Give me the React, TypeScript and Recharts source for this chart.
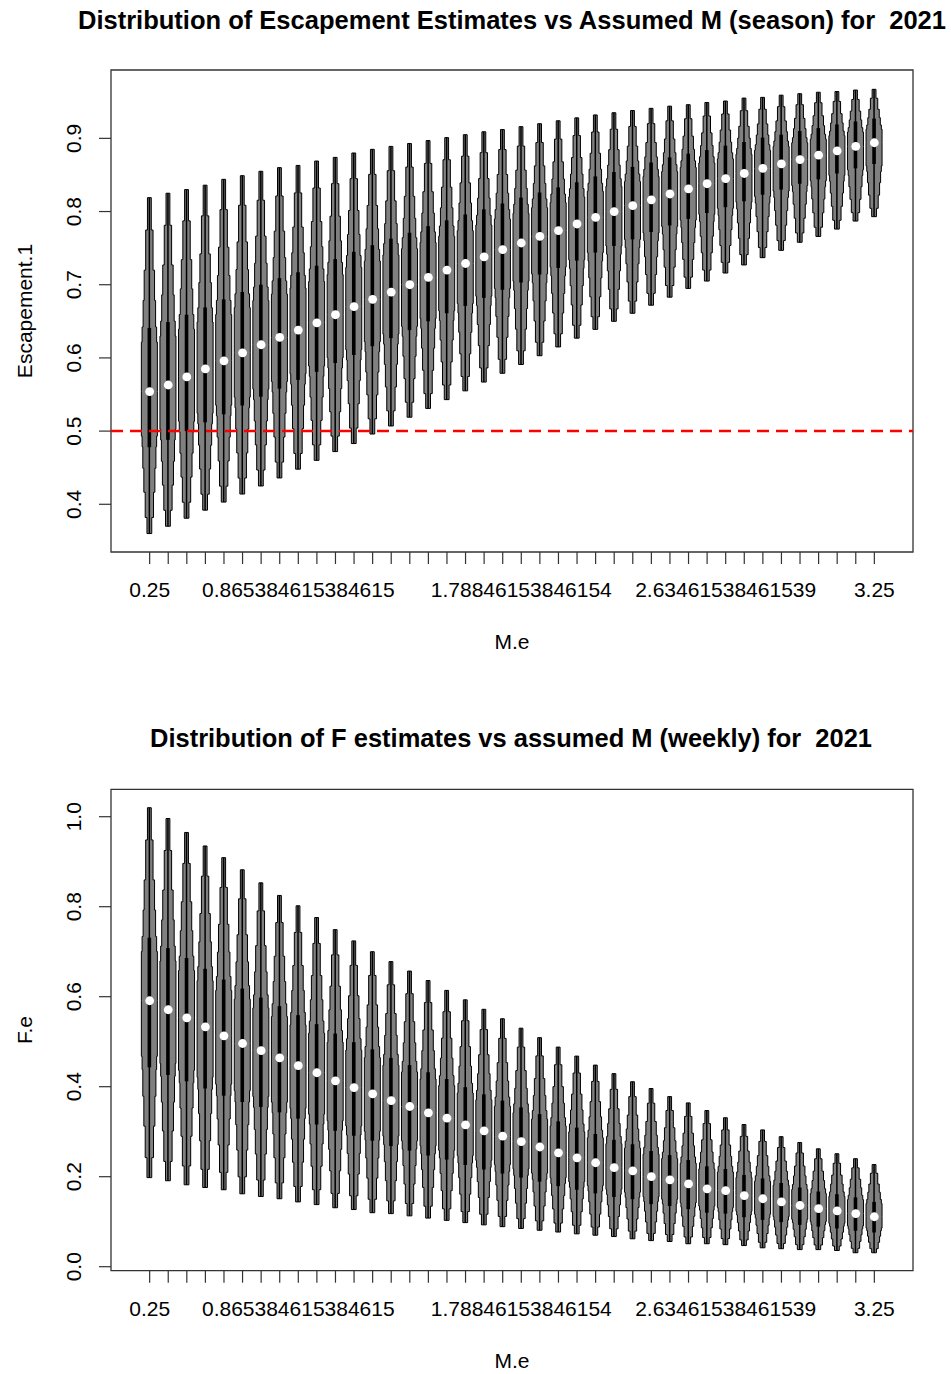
import React from "react";
import { ComposedChart, Bar, Scatter, XAxis, YAxis, ReferenceLine, ReferenceArea } from "recharts";

// assumed M values (40 runs)
const mValues = [
  0.25, 0.326923, 0.403846, 0.480769, 0.557692, 0.634615, 0.711538, 0.788462, 0.865385, 0.942308,
  1.019231, 1.096154, 1.173077, 1.25, 1.326923, 1.403846, 1.480769, 1.557692, 1.634615, 1.711538,
  1.788462, 1.865385, 1.942308, 2.019231, 2.096154, 2.173077, 2.25, 2.326923, 2.403846, 2.480769,
  2.557692, 2.634615, 2.711538, 2.788462, 2.865385, 2.942308, 3.019231, 3.096154, 3.173077, 3.25,
];
// R only printed the labels that fit
const xLabelIdx = [0, 8, 20, 31, 39];
const xLabelText = ["0.25", "0.865384615384615", "1.78846153846154", "2.63461538461539", "3.25"];

// Escapement.1 (season)
const escMin = [
  0.360, 0.370, 0.381, 0.392, 0.403, 0.414, 0.425, 0.436, 0.448, 0.460,
  0.472, 0.483, 0.496, 0.507, 0.519, 0.531, 0.543, 0.555, 0.567, 0.579,
  0.591, 0.603, 0.615, 0.627, 0.639, 0.650, 0.661, 0.672, 0.683, 0.695,
  0.705, 0.716, 0.727, 0.737, 0.747, 0.758, 0.766, 0.776, 0.787, 0.793,
];
const escQ1 = [
  0.478, 0.488, 0.500, 0.512, 0.523, 0.535, 0.547, 0.558, 0.570, 0.581,
  0.593, 0.604, 0.616, 0.627, 0.638, 0.650, 0.661, 0.671, 0.682, 0.693,
  0.703, 0.714, 0.723, 0.733, 0.744, 0.753, 0.762, 0.772, 0.781, 0.790,
  0.798, 0.806, 0.814, 0.823, 0.830, 0.838, 0.844, 0.852, 0.859, 0.865,
];
const escMed = [
  0.554, 0.563, 0.574, 0.585, 0.596, 0.607, 0.618, 0.628, 0.638, 0.648,
  0.659, 0.670, 0.680, 0.690, 0.700, 0.710, 0.720, 0.729, 0.738, 0.748,
  0.757, 0.766, 0.774, 0.783, 0.792, 0.800, 0.808, 0.816, 0.824, 0.831,
  0.838, 0.845, 0.852, 0.859, 0.865, 0.871, 0.877, 0.883, 0.889, 0.894,
];
const escQ3 = [
  0.641, 0.649, 0.659, 0.669, 0.680, 0.690, 0.700, 0.709, 0.717, 0.726,
  0.735, 0.745, 0.754, 0.763, 0.771, 0.780, 0.788, 0.796, 0.803, 0.811,
  0.819, 0.826, 0.833, 0.840, 0.848, 0.854, 0.861, 0.867, 0.874, 0.879,
  0.884, 0.890, 0.895, 0.901, 0.905, 0.910, 0.914, 0.919, 0.923, 0.927,
];
const escMax = [
  0.819, 0.825, 0.830, 0.836, 0.844, 0.849, 0.855, 0.860, 0.863, 0.869,
  0.874, 0.880, 0.885, 0.889, 0.893, 0.897, 0.901, 0.905, 0.909, 0.912,
  0.916, 0.920, 0.924, 0.928, 0.932, 0.935, 0.938, 0.941, 0.944, 0.946,
  0.949, 0.951, 0.955, 0.956, 0.959, 0.961, 0.963, 0.964, 0.966, 0.967,
];

// F.e (weekly)
const fMin = [
  0.198, 0.191, 0.182, 0.176, 0.171, 0.162, 0.156, 0.151, 0.144, 0.138,
  0.131, 0.127, 0.120, 0.118, 0.113, 0.108, 0.103, 0.098, 0.093, 0.089,
  0.085, 0.081, 0.077, 0.073, 0.070, 0.067, 0.062, 0.058, 0.056, 0.051,
  0.051, 0.049, 0.047, 0.042, 0.040, 0.038, 0.038, 0.036, 0.031, 0.031,
];
const fQ1 = [
  0.443, 0.426, 0.412, 0.396, 0.380, 0.366, 0.355, 0.343, 0.329, 0.316,
  0.302, 0.291, 0.280, 0.268, 0.258, 0.247, 0.238, 0.226, 0.216, 0.207,
  0.198, 0.189, 0.179, 0.171, 0.163, 0.155, 0.150, 0.139, 0.135, 0.128,
  0.120, 0.118, 0.110, 0.104, 0.099, 0.093, 0.089, 0.085, 0.080, 0.076,
];
const fMed = [
  0.591, 0.571, 0.553, 0.533, 0.513, 0.496, 0.480, 0.464, 0.447, 0.431,
  0.413, 0.398, 0.384, 0.369, 0.356, 0.342, 0.330, 0.315, 0.302, 0.290,
  0.278, 0.266, 0.253, 0.242, 0.231, 0.220, 0.213, 0.200, 0.193, 0.184,
  0.173, 0.169, 0.158, 0.151, 0.144, 0.136, 0.129, 0.124, 0.118, 0.111,
];
const fQ3 = [
  0.731, 0.708, 0.686, 0.662, 0.638, 0.618, 0.598, 0.579, 0.559, 0.539,
  0.518, 0.499, 0.483, 0.464, 0.448, 0.432, 0.417, 0.399, 0.383, 0.369,
  0.354, 0.339, 0.323, 0.309, 0.295, 0.282, 0.272, 0.257, 0.248, 0.237,
  0.223, 0.217, 0.204, 0.196, 0.186, 0.176, 0.167, 0.161, 0.154, 0.144,
];
const fMax = [
  1.020, 0.996, 0.965, 0.935, 0.909, 0.882, 0.853, 0.825, 0.802, 0.776,
  0.749, 0.724, 0.700, 0.678, 0.657, 0.636, 0.614, 0.593, 0.572, 0.551,
  0.530, 0.509, 0.488, 0.468, 0.448, 0.429, 0.411, 0.396, 0.378, 0.364,
  0.347, 0.331, 0.316, 0.304, 0.289, 0.276, 0.262, 0.251, 0.240, 0.227,
];

const escTicks = [0.4, 0.5, 0.6, 0.7, 0.8, 0.9];
const fTicks = [0, 0.2, 0.4, 0.6, 0.8, 1.0];

// stepped outline of the violins: [fraction from median toward the end, relative half width]
const upperSteps = [[0.255, 1], [0.333, 0.91], [0.47, 0.78], [0.626, 0.65], [0.833, 0.46], [1, 0.24]];
const lowerSteps = [[0.314, 1], [0.389, 0.91], [0.54, 0.82], [0.709, 0.69], [0.887, 0.52], [1, 0.3]];

const FONT = "'Liberation Sans', Arial, sans-serif";
const AX = "#333";

function rows(lo: number[], q1: number[], med: number[], q3: number[], hi: number[]) {
  return mValues.map((m, i) => ({ m, lo: lo[i], q1: q1[i], med: med[i], q3: q3[i], hi: hi[i] }));
}

function Violin(props: any) {
  const { x, y, width, height, payload } = props;
  if (!payload || height == null) return null;
  const top = Math.min(y, y + height);
  const h = Math.abs(height);
  const { lo, hi, q1, q3, med } = payload;
  const cx = x + width / 2;
  const half = width / 2;
  const py = (v: number) => top + ((hi - v) / (hi - lo)) * h;

  const segs: [number, number, number][] = [];
  for (let i = upperSteps.length - 1; i >= 0; i--) {
    const t0 = i > 0 ? upperSteps[i - 1][0] : 0;
    const t1 = upperSteps[i][0];
    segs.push([upperSteps[i][1] * half, py(med + t1 * (hi - med)), py(med + t0 * (hi - med))]);
  }
  for (let i = 0; i < lowerSteps.length; i++) {
    const t0 = i > 0 ? lowerSteps[i - 1][0] : 0;
    const t1 = lowerSteps[i][0];
    segs.push([lowerSteps[i][1] * half, py(med - t0 * (med - lo)), py(med - t1 * (med - lo))]);
  }
  const pts: string[] = [];
  segs.forEach(([w, a, b]) => pts.push(`${cx + w},${a}`, `${cx + w},${b}`));
  [...segs].reverse().forEach(([w, a, b]) => pts.push(`${cx - w},${b}`, `${cx - w},${a}`));

  return (
    <g>
      <polygon points={pts.join(" ")} fill="#808080" stroke="#000" strokeWidth={1} />
      <line x1={cx} x2={cx} y1={py(hi)} y2={py(lo)} stroke="#000" strokeWidth={1.5} />
      <rect x={cx - 1.8} width={3.6} y={py(q3)} height={py(q1) - py(q3)} fill="#000" />
    </g>
  );
}

function XTick(props: any) {
  const idx = mValues.indexOf(props.payload.value);
  const k = xLabelIdx.indexOf(idx);
  if (k < 0) return null;
  return (
    <text x={props.x} y={props.y} dy={31} textAnchor="middle" fontSize={21} fontFamily={FONT} fill="#000">
      {xLabelText[k]}
    </text>
  );
}

function YTick(props: any) {
  const tx = props.x - 16;
  return (
    <text x={tx} y={props.y} transform={`rotate(-90, ${tx}, ${props.y})`} textAnchor="middle" fontSize={21} fontFamily={FONT} fill="#000">
      {props.payload.value.toFixed(1)}
    </text>
  );
}

function Panel(p: {
  data: any[];
  yDomain: [number, number];
  yTicks: number[];
  height: number;
  top: number;
  bottom: number;
  refY?: number;
}) {
  const xDomain: [number, number] = [0.09, 3.41];
  return (
    <ComposedChart width={951} height={p.height} data={p.data} margin={{ top: p.top, right: 38, bottom: p.bottom, left: 51 }}>
      <XAxis
        type="number"
        dataKey="m"
        domain={xDomain}
        ticks={mValues}
        interval={0}
        allowDataOverflow
        axisLine={false}
        tickSize={12}
        tickLine={{ stroke: AX, strokeWidth: 1.2 }}
        height={60}
        tick={(t: any) => <XTick {...t} />}
      />
      <YAxis
        type="number"
        domain={p.yDomain}
        ticks={p.yTicks}
        interval={0}
        allowDataOverflow
        axisLine={false}
        tickSize={12}
        tickLine={{ stroke: AX, strokeWidth: 1.2 }}
        width={60}
        tick={(t: any) => <YTick {...t} />}
      />
      <Bar dataKey={(d: any) => [d.lo, d.hi]} barSize={16} shape={(s: any) => <Violin {...s} />} isAnimationActive={false} />
      <Scatter
        dataKey="med"
        isAnimationActive={false}
        shape={(s: any) => <circle cx={s.cx} cy={s.cy} r={4.4} fill="#fff" />}
      />
      {p.refY !== undefined && (
        <ReferenceLine y={p.refY} stroke="#ff0000" strokeWidth={2.5} strokeDasharray="12 7" />
      )}
      <ReferenceArea
        x1={xDomain[0]}
        x2={xDomain[1]}
        y1={p.yDomain[0]}
        y2={p.yDomain[1]}
        fill="none"
        fillOpacity={0}
        stroke={AX}
        strokeWidth={1.3}
        ifOverflow="visible"
      />
    </ComposedChart>
  );
}

export default function App() {
  const escData = rows(escMin, escQ1, escMed, escQ3, escMax);
  const fData = rows(fMin, fQ1, fMed, fQ3, fMax);
  return (
    <div style={{ position: "relative", width: 951, height: 1374, background: "#fff", fontFamily: FONT }}>
      <style>{"body{margin:0}"}</style>
      <Panel data={escData} yDomain={[0.3348, 0.9934]} yTicks={escTicks} height={687} top={70} bottom={75} refY={0.5} />
      <Panel data={fData} yDomain={[-0.0089, 1.0609]} yTicks={fTicks} height={687} top={102.3} bottom={43.3} />
      <svg width={951} height={1374} style={{ position: "absolute", left: 0, top: 0, pointerEvents: "none" }}>
        <g fontFamily={FONT} fill="#000">
          <text x={512} y={29} textAnchor="middle" fontSize={25} fontWeight="bold" textLength={868} lengthAdjust="spacingAndGlyphs" style={{ whiteSpace: "pre" }}>
            {"Distribution of Escapement Estimates vs Assumed M (season) for  2021"}
          </text>
          <text x={511} y={747} textAnchor="middle" fontSize={25} fontWeight="bold" textLength={722} lengthAdjust="spacingAndGlyphs" style={{ whiteSpace: "pre" }}>
            {"Distribution of F estimates vs assumed M (weekly) for  2021"}
          </text>
          <text x={512} y={649} textAnchor="middle" fontSize={21}>M.e</text>
          <text x={512} y={1368} textAnchor="middle" fontSize={21}>M.e</text>
          <text x={32} y={311} textAnchor="middle" fontSize={21} transform="rotate(-90, 32, 311)">Escapement.1</text>
          <text x={32} y={1030} textAnchor="middle" fontSize={21} transform="rotate(-90, 32, 1030)">F.e</text>
        </g>
      </svg>
    </div>
  );
}
